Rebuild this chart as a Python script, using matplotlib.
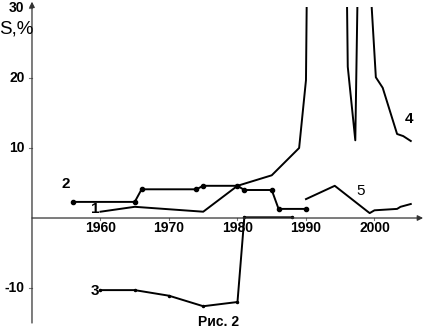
import matplotlib.pyplot as plt

# curve 1 (continues off the top at 1990)
years1 = [1960, 1965, 1975, 1980, 1985, 1989, 1990, 1990.1]
vals1 = [0.9, 1.6, 0.9, 4.6, 6.1, 10.0, 19.7, 30.0]

# curve 2 (with dots)
years2 = [1956, 1965, 1966, 1974, 1975, 1980, 1981, 1985, 1986, 1990]
vals2 = [2.3, 2.3, 4.1, 4.1, 4.6, 4.6, 4.0, 4.0, 1.3, 1.3]

# curve 3
years3 = [1960, 1965, 1970, 1975, 1980, 1981, 1988]
vals3 = [-10.3, -10.3, -11.1, -12.6, -12.0, 0.1, 0.1]

# curve 4 (two pieces coming down from the top)
years4a = [1996.0, 1996.1, 1997.2, 1997.5]
vals4a = [30.0, 21.6, 11.1, 30.0]
years4b = [1999.6, 2000.2, 2001.2, 2003.3, 2004.2, 2005.3]
vals4b = [30.0, 20.1, 18.6, 12.0, 11.7, 11.0]

# curve 5
years5 = [1990, 1994.2, 1998.9, 1999.3, 2000, 2003.3, 2003.8, 2005.3]
vals5 = [2.7, 4.6, 1.0, 0.7, 1.1, 1.3, 1.6, 2.0]

xticks = [1960, 1970, 1980, 1990, 2000]
yticks = [-10, 10, 20, 30]

# curve number labels: (text, year, value)
labels = [("1", 1959.3, 1.3), ("2", 1955.0, 4.9), ("3", 1959.2, -10.4),
          ("4", 2005.0, 14.1), ("5", 1998.0, 3.9)]

fig = plt.figure(figsize=(4.24, 3.31), dpi=100)
ax = fig.add_axes([0, 0, 1, 1])
ax.set_xlim(1945.33, 2007.23)
ax.set_ylim(-16.14, 31.14)
ax.axis('off')

font = dict(family='Liberation Sans', fontweight='bold', fontsize=10)
axcol = '#777777'

# axes with arrows
ax.annotate('', xy=(2007.1, 0), xytext=(1950, 0),
            arrowprops=dict(arrowstyle='-|>', color='#333333', lw=0.9,
                            mutation_scale=8, shrinkA=0, shrinkB=0))
ax.annotate('', xy=(1950, 30.9), xytext=(1950, -15.0),
            arrowprops=dict(arrowstyle='-|>', color='#333333', lw=0.9,
                            mutation_scale=8, shrinkA=0, shrinkB=0))

for t in xticks:
    ax.plot([t, t], [0, -0.35], color=axcol, lw=0.8)
    ax.text(t, -1.4, str(t), ha='center', va='center', **font)
for t in yticks:
    ax.plot([1950, 1949.5], [t, t], color=axcol, lw=0.8)
    ax.text(1948.9, t, str(t), ha='right', va='center', **font)

ax.text(1945.2, 27.0, 'S,%', ha='left', va='center', family='Liberation Sans',
        fontsize=13.5)
ax.text(1977.3, -14.8, 'Рис. 2', ha='center', va='center', **font)

lw = 1.4
ax.plot(years1, vals1, color='black', lw=lw)
ax.plot(years2, vals2, color='black', lw=lw, marker='o', markersize=3)
ax.plot(years3, vals3, color='black', lw=lw, marker='o', markersize=1.5)
ax.plot(years4a, vals4a, color='black', lw=lw)
ax.plot(years4b, vals4b, color='black', lw=lw)
ax.plot(years5, vals5, color='black', lw=lw)

for txt, x, y in labels:
    w = 'normal' if txt == '5' else 'bold'
    ax.text(x, y, txt, ha='center', va='center', family='Liberation Sans',
            fontweight=w, fontsize=11)

fig.savefig('out.png', dpi=100)
